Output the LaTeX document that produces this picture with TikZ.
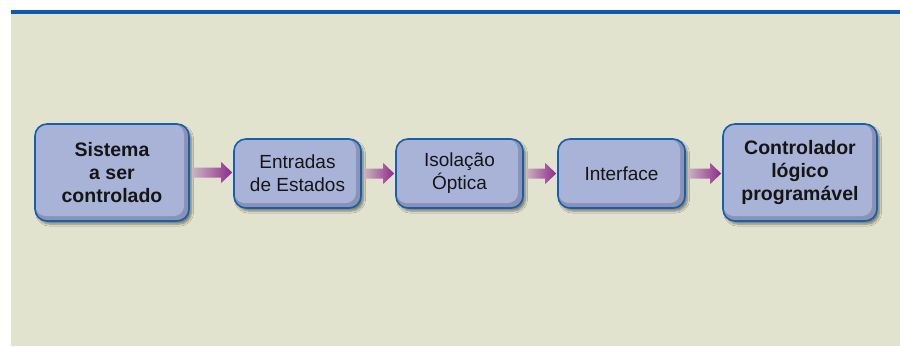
\documentclass[tikz,border=0pt]{standalone}
\usepackage{fontspec}
\setmainfont{Liberation Sans}
\usetikzlibrary{shadows.blur}
\definecolor{bgbeige}{HTML}{E1E3CE}
\definecolor{topblue}{HTML}{0B5CAB}
\definecolor{boxfill}{HTML}{A9B3D7}
\definecolor{boxdark}{HTML}{8A92B5}
\definecolor{boxline}{HTML}{1560AE}
\definecolor{arrowpurple}{HTML}{8E2A8E}
\definecolor{txt}{HTML}{151515}
\tikzset{
  blockbox/.style={rounded corners=12pt, draw=boxline, line width=1.6pt, fill=boxdark,
    text=txt, align=center, inner sep=0pt,
    font=\fontsize{19}{23}\selectfont,
    blur shadow={shadow xshift=2.5pt, shadow yshift=-3pt, shadow blur steps=6, shadow opacity=45},
    path picture={\fill[boxfill, rounded corners=10pt]
      ([shift={(0.5pt,-0.5pt)}]path picture bounding box.north west) rectangle
      ([shift={(-5pt,5pt)}]path picture bounding box.south east);}},
  bigbox/.style={blockbox, minimum width=154pt, minimum height=97pt, font=\fontsize{19.5}{23}\selectfont\bfseries},
  smallbox/.style={blockbox, minimum width=127pt, minimum height=69pt}
}
\newcommand{\flowarrow}[2]{%
  \path let \p1=(#1.east), \p2=(#2.west) in
    [shading=axis, left color=bgbeige!75!arrowpurple, right color=arrowpurple]
    (\x1+2pt,\y1+5pt) -- (\x2-12pt,\y1+5pt) -- (\x2-12pt,\y1+10.5pt) -- (\x2-1pt,\y1) --
    (\x2-12pt,\y1-10.5pt) -- (\x2-12pt,\y1-5pt) -- (\x1+2pt,\y1-5pt) -- cycle;}
\begin{document}
\begin{tikzpicture}[x=1pt,y=-1pt]
\useasboundingbox (0,0) rectangle (900,346);
\fill[white] (0,0) rectangle (900,346);
\fill[bgbeige] (11,13.5) rectangle (900,346);
\fill[topblue] (11,10) rectangle (900,13.5);
\node[bigbox] (b1) at (112,172.5) {Sistema\\a ser\\controlado};
\node[smallbox] (b2) at (297.5,173.5) {Entradas\\de Estados};
\node[smallbox] (b3) at (459.5,173.5) {Isolação\\Óptica};
\node[smallbox] (b4) at (621.5,173.5) {Interface};
\node[bigbox] (b5) at (800,172.5) {Controlador\\lógico\\programável};
\flowarrow{b1}{b2}
\flowarrow{b2}{b3}
\flowarrow{b3}{b4}
\flowarrow{b4}{b5}
\end{tikzpicture}
\end{document}
